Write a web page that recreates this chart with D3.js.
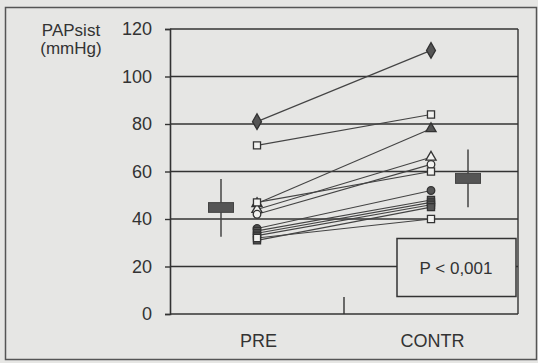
<!DOCTYPE html>
<html>
<head>
<meta charset="utf-8">
<script src="https://cdn.jsdelivr.net/npm/d3@7"></script>
<style>
  body { margin: 0; background: #e6e6e4; }
  svg { display: block; font-family: "Liberation Sans", Arial, sans-serif; }
</style>
</head>
<body>
<svg></svg>
<script>

var categories = ["PRE", "CONTR"];
var yTicks = [0, 20, 40, 60, 80, 100, 120];

// paired values, one entry per patient
var preValues   = [81, 71, 46.5, 44, 42, 47, 36, 35, 34, 33, 31, 32];
var contrValues = [111, 84, 78, 66, 63, 60, 52, 48, 47, 46, 45, 40];
var markers     = ["diamond", "square", "triangle", "triangle", "circle", "square",
                   "circle", "square", "square", "square", "square", "square"];
var filled      = [true, false, true, false, false, false, true, true, true, true, true, false];

// summary boxes (box low/high, whisker low/high)
var boxLow   = [42.8, 55];
var boxHigh  = [46.9, 59.2];
var whiskLow = [32.5, 45];
var whiskHigh= [56.8, 69.3];

var pText = "P < 0,001";

var width = 538;
var height = 363;
var DARK = "#333";
var FILL = "#555";
var BG = "#e6e6e4";
var FONT = 18;

var svg = d3.select('svg').attr("width", width).attr("height", height);

svg.append('rect')
  .attr('x', 5.5).attr('y', 7.5)
  .attr('width', 531).attr('height', 352)
  .attr('fill', BG)
  .attr('stroke', '#555').attr('stroke-width', 1.5);

var plotL = 170, plotR = 518, plotT = 29, plotB = 314;

var x = d3.scalePoint().domain(categories).range([plotL, plotR]).padding(0.5);
var y = d3.scaleLinear().domain([0, 120]).range([plotB, plotT]);

// grid lines
svg.append('g').selectAll('line')
  .data(yTicks.filter(function(d){ return d > 0; }))
  .enter().append('line')
  .attr('x1', plotL).attr('x2', plotR)
  .attr('y1', function(d){ return y(d); })
  .attr('y2', function(d){ return y(d); })
  .attr('stroke', DARK).attr('stroke-width', 1.4);

// right border of plot
svg.append('line')
  .attr('x1', plotR).attr('x2', plotR)
  .attr('y1', plotT).attr('y2', plotB)
  .attr('stroke', DARK).attr('stroke-width', 1.4);

// y axis
var yAxis = svg.append('g')
  .attr('transform', 'translate(' + plotL + ',0)')
  .call(d3.axisLeft(y).tickValues(yTicks).tickSize(5).tickPadding(13));
yAxis.select('.domain').attr('stroke', DARK).attr('stroke-width', 1.6);
yAxis.selectAll('.tick line').attr('stroke', DARK).attr('stroke-width', 1.4);
yAxis.selectAll('text').attr('font-size', FONT).attr('fill', '#333')
  .attr('font-family', '"Liberation Sans", Arial, sans-serif');

// x axis baseline
svg.append('line')
  .attr('x1', plotL).attr('x2', plotR)
  .attr('y1', plotB).attr('y2', plotB)
  .attr('stroke', DARK).attr('stroke-width', 1.6);

// middle category divider tick
var mid = (x("PRE") + x("CONTR")) / 2;
svg.append('line')
  .attr('x1', mid).attr('x2', mid)
  .attr('y1', plotB - 17).attr('y2', plotB)
  .attr('stroke', DARK).attr('stroke-width', 1.4);

// category labels
svg.append('g').selectAll('text')
  .data(categories).enter().append('text')
  .attr('x', function(d){ return x(d) + 1.5; })
  .attr('y', 347)
  .attr('text-anchor', 'middle')
  .attr('font-size', FONT)
  .attr('fill', '#333')
  .text(function(d){ return d; });

// y label
svg.append('text').attr('x', 71).attr('y', 36).attr('text-anchor', 'middle')
  .attr('font-size', 17).attr('fill', '#333').text('PAPsist');
svg.append('text').attr('x', 71).attr('y', 54).attr('text-anchor', 'middle')
  .attr('font-size', 17).attr('fill', '#333').text('(mmHg)');

// box summaries
var boxOffset = [-36, 37];
categories.forEach(function(c, i){
  var cx = x(c) + boxOffset[i];
  svg.append('line')
    .attr('x1', cx).attr('x2', cx)
    .attr('y1', y(whiskHigh[i])).attr('y2', y(whiskLow[i]))
    .attr('stroke', '#444').attr('stroke-width', 1.5);
  svg.append('rect')
    .attr('x', cx - 12.5).attr('width', 25)
    .attr('y', y(boxHigh[i])).attr('height', y(boxLow[i]) - y(boxHigh[i]))
    .attr('fill', FILL).attr('stroke', '#444').attr('stroke-width', 1);
});

// connecting lines
svg.append('g').selectAll('line')
  .data(preValues).enter().append('line')
  .attr('x1', x("PRE")).attr('x2', x("CONTR"))
  .attr('y1', function(d){ return y(d); })
  .attr('y2', function(d, i){ return y(contrValues[i]); })
  .attr('stroke', '#444').attr('stroke-width', 1.1);

var symbolTypes = {
  diamond: d3.symbolDiamond,
  square: d3.symbolSquare,
  triangle: d3.symbolTriangle,
  circle: d3.symbolCircle
};
var symbolSizes = { diamond: 70, square: 50, triangle: 45, circle: 45 };

function drawMarkers(cat, values){
  svg.append('g').selectAll('path')
    .data(values.map(function(v, i){ return {v: v, i: i}; }))
    .enter().append('path')
    .attr('transform', function(d){ return 'translate(' + x(cat) + ',' + y(d.v) + ')'; })
    .attr('d', function(d){
      var m = markers[d.i];
      return d3.symbol().type(symbolTypes[m]).size(symbolSizes[m])();
    })
    .attr('fill', function(d){ return filled[d.i] ? FILL : '#f2f2f0'; })
    .attr('stroke', '#333').attr('stroke-width', 1.3);
}
drawMarkers("PRE", preValues);
drawMarkers("CONTR", contrValues);

// p-value box
svg.append('rect')
  .attr('x', 397).attr('y', 238.5)
  .attr('width', 119).attr('height', 58)
  .attr('fill', BG).attr('stroke', DARK).attr('stroke-width', 1.5);
svg.append('text')
  .attr('x', 456).attr('y', 274)
  .attr('text-anchor', 'middle')
  .attr('font-size', 17).attr('fill', '#333')
  .text(pText);

</script>
</body>
</html>
